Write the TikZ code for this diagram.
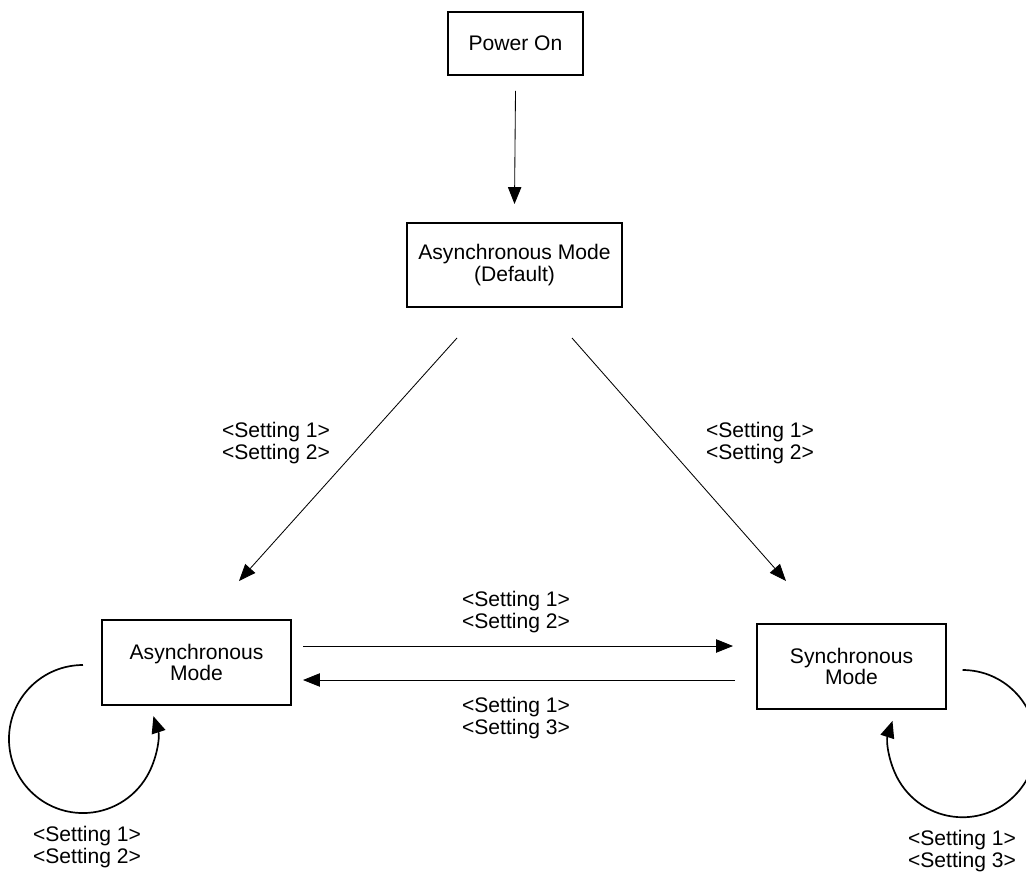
\documentclass[tikz,border=0pt]{standalone}
\usepackage{fontspec}
\setmainfont{Liberation Sans}
\usetikzlibrary{positioning,calc,arrows.meta}

\begin{document}
\begin{tikzpicture}[x=0.025cm,y=-0.025cm]
  \useasboundingbox (0,0) rectangle (1026,876);
  \tikzstyle{state}=[rectangle, draw, line width=1.4pt, align=center, inner sep=0pt, font=\fontsize{15}{15.5}\selectfont]
  \tikzstyle{lbl}=[align=center, inner sep=0pt, font=\fontsize{15}{15.5}\selectfont]
  \tikzstyle{conn}=[line width=0.6pt, -{Triangle[length=12pt,width=9.5pt]}]
  \tikzstyle{selfloop}=[line width=1.2pt, -{Triangle[length=12pt,width=10pt]}]

  % Zustaende
  \node[state, minimum width=3.375cm, minimum height=1.575cm] (power) at (515.5,43.5) {Power On};
  \node[state, minimum width=5.375cm, minimum height=2.1cm] (asyncdef) at (514.5,265) {Asynchronous Mode\\(Default)};
  \node[state, minimum width=4.725cm, minimum height=2.125cm] (asyncm) at (196.5,662.5) {Asynchronous\\Mode};
  \node[state, minimum width=4.725cm, minimum height=2.125cm] (syncm) at (851.5,666.5) {Synchronous\\Mode};

  % Uebergaenge
  \draw[conn] ($(power.south)+(0,15)$) -- ($(asyncdef.north)+(0,-18)$);
  \draw[conn] ($(asyncdef.south)+(-57.5,30)$) -- ($(asyncm.north)+(42.5,-38)$);
  \draw[conn] ($(asyncdef.south)+(57.5,30)$) -- ($(syncm.north)+(-65.5,-42)$);
  \draw[conn] ($(asyncm.east)+(11,-16.5)$) -- ($(syncm.west)+(-23,-20.5)$);
  \draw[conn] ($(syncm.west)+(-21,13.5)$) -- ($(asyncm.east)+(11,17.5)$);

  % Schleifen
  \draw[selfloop] ($(asyncm.west)+(-18,2.5)$) arc[start angle=90, end angle=378, radius=1.85cm];
  \draw[selfloop] ($(syncm.east)+(15.5,3.5)$) arc[start angle=90, end angle=-198, radius=1.84cm];

  % Beschriftungen
  \node[lbl] (l1) at (276,443) {<Setting 1>\\<Setting 2>};
  \node[lbl] (l2) at (760,443) {<Setting 1>\\<Setting 2>};
  \node[lbl] (l3) at (516,612) {<Setting 1>\\<Setting 2>};
  \node[lbl] (l4) at (516,718) {<Setting 1>\\<Setting 3>};
  \node[lbl] (l5) at (87,847) {<Setting 1>\\<Setting 2>};
  \node[lbl] (l6) at (962,851) {<Setting 1>\\<Setting 3>};
\end{tikzpicture}
\end{document}
